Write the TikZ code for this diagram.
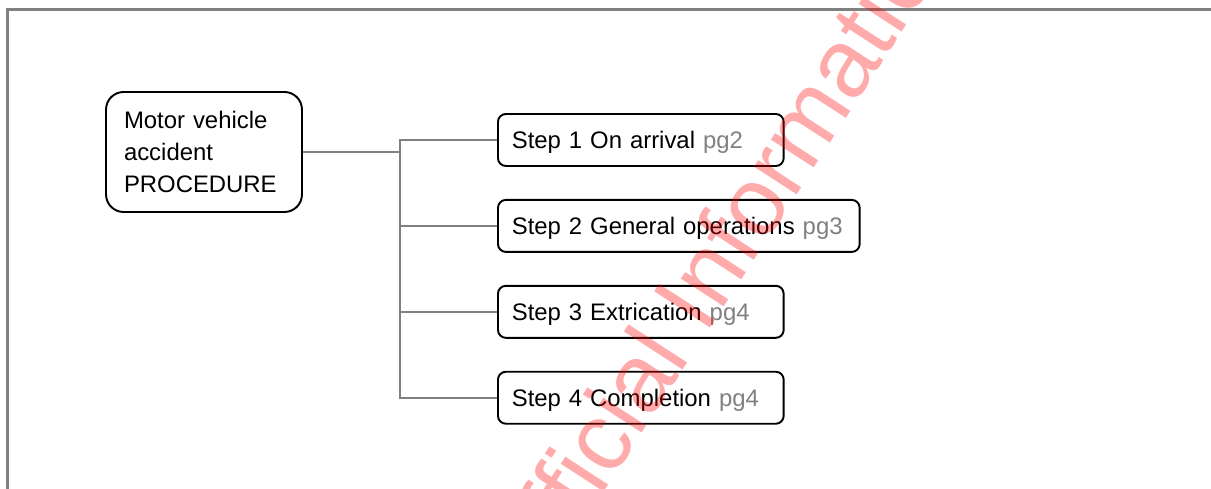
\documentclass[tikz,border=0pt]{standalone}
\usepackage{fontspec}
\setmainfont{Liberation Sans}
\usetikzlibrary{positioning}
\newcommand{\pagetag}[1]{\textcolor{gray}{#1}}
\tikzset{
  boxfont/.style={font=\fontsize{13.6pt}{18.1pt}\selectfont},
  rootbox/.style={draw,line width=1.1pt,rounded corners=10pt,boxfont,align=left,
    text width=3.2cm,inner xsep=10.2pt,minimum width=3.92cm,minimum height=2.4cm},
  stepbox/.style={draw,line width=1.1pt,rounded corners=4.5pt,boxfont,align=left,
    text width=5.16cm,inner xsep=7.9pt,text depth=0pt,minimum height=1.04cm,anchor=west},
  link/.style={draw=gray,line width=0.9pt},
  frame/.style={draw=gray,line width=1.7pt},
  wmark/.style={text=red,text opacity=0.33,font=\fontsize{55pt}{55pt}\selectfont}
}
\begin{document}
\begin{tikzpicture}[x=0.02cm,y=-0.02cm]
\useasboundingbox (0,0) rectangle (1211,489);
\clip (0,0) rectangle (1211,489);
\draw[frame] (7.5,520) |- (1240,9.5);
% procedure and its steps
\node[rootbox] (root) at (204,152) {Motor vehicle\\accident\\PROCEDURE};
\node[stepbox] (s1) at (497,140) {Step 1 On arrival \pagetag{pg2}};
\node[stepbox,text width=6.68cm,below=0.64cm of s1.south west,anchor=north west] (s2)
  {Step 2 General operations \pagetag{pg3}};
\node[stepbox,below=0.64cm of s2.south west,anchor=north west] (s3) {Step 3 Extrication \pagetag{pg4}};
\node[stepbox,below=0.64cm of s3.south west,anchor=north west] (s4) {Step 4 Completion \pagetag{pg4}};
\coordinate (fork) at (400,152);
\draw[link,line width=1.3pt] (root.east) -- (fork);
\foreach \s in {s1,s2,s3,s4}
  \draw[link] (fork) |- (\s.west);
% watermark
\node[wmark,rotate=57] (wm) at (721,248) {Official Information};
\end{tikzpicture}
\end{document}
